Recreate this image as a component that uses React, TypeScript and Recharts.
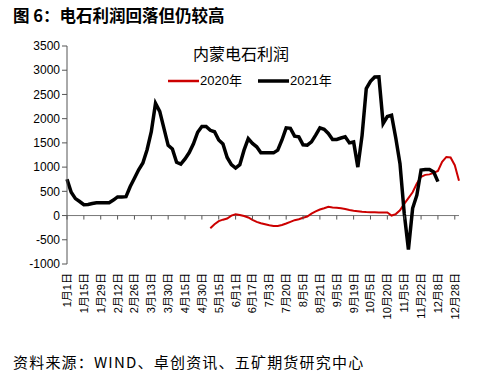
import { LineChart, Line, XAxis, YAxis, ReferenceLine } from "recharts";

// tick labels on the date axis, one every 4 data points
const tickLabels = [
  "1月1日", "1月15日", "1月29日", "2月12日", "2月26日", "3月13日", "3月30日", "4月15日",
  "4月30日", "5月15日", "6月1日", "6月17日", "7月3日", "7月20日", "8月5日", "8月21日",
  "9月5日", "9月19日", "10月5日", "10月20日", "11月5日", "11月22日", "12月8日", "12月28日",
];
const pointsPerLabel = 4;

const profit2021 = [
  750, 480, 350, 290, 225, 230, 250, 265, 265, 265,
  265, 320, 385, 385, 390, 600, 770, 945, 1085, 1360,
  1730, 2315, 2150, 1800, 1450, 1375, 1100, 1060, 1170, 1300,
  1480, 1720, 1840, 1840, 1760, 1730, 1560, 1480, 1200, 1050,
  980, 1050, 1350, 1590, 1490, 1420, 1294, 1294, 1294, 1294,
  1350, 1560, 1810, 1800, 1640, 1625, 1460, 1453, 1520, 1660,
  1810, 1780, 1695, 1571, 1571, 1600, 1625, 1500, 1520, 1000,
  1650, 2620, 2770, 2860, 2865, 1900, 2045, 2070, 1600, 1070,
  50, -700, 150, 420, 940, 951, 951, 900, 700,
];

const profit2020Start = 34;
const profit2020 = [
  -260, -180, -115, -85, -60, 0, 25, 10, -10, -40,
  -90, -130, -160, -180, -200, -215, -215, -195, -165, -130,
  -95, -75, -45, -20, 40, 85, 124, 150, 180, 165,
  160, 150, 135, 115, 100, 90, 80, 72, 68, 66,
  64, 63, 62, 0, 30, 110, 240, 360, 480, 660,
  800, 840, 850, 880, 920, 1110, 1210, 1200, 1040, 720,
];

const yTicks = [-1000, -500, 0, 500, 1000, 1500, 2000, 2500, 3000, 3500];

const lastIndex = profit2020Start + profit2020.length - 1;
const data = Array.from({ length: lastIndex + 1 }, (_, i) => ({
  i,
  y2021: i < profit2021.length ? profit2021[i] : null,
  y2020: i >= profit2020Start ? profit2020[i - profit2020Start] : null,
}));
const xTicks = tickLabels.map((_, k) => k * pointsPerLabel);

const W = 481;
const H = 380;
const PLOT_TOP = 46;
const PLOT_BOTTOM = 264;
const PLOT_LEFT = 67;
const PLOT_RIGHT = 459;
const Y_AXIS_W = 60;
const X_AXIS_H = 70;
const ZERO_Y = PLOT_TOP + ((PLOT_BOTTOM - PLOT_TOP) * 3500) / 4500;
const FONT = "'Liberation Sans', Arial, 'Noto Sans CJK SC', sans-serif";

const XTick = (props: any) => {
  const { x, payload } = props;
  const ly = PLOT_BOTTOM + 9;
  return (
    <g>
      <line x1={x} x2={x} y1={ZERO_Y} y2={ZERO_Y + 4} stroke="#555" />
      <text
        x={x}
        y={ly}
        transform={`rotate(-90, ${x}, ${ly})`}
        textAnchor="end"
        dominantBaseline="central"
        fontSize={11}
        fill="#000"
        fontFamily={FONT}
      >
        {tickLabels[Math.round(payload.value / pointsPerLabel)]}
      </text>
    </g>
  );
};

export default function App() {
  return (
    <div style={{ position: "absolute", left: 0, top: 0, width: W, height: H, background: "#fff", fontFamily: FONT }}>
      <div style={{ position: "absolute", left: 13, top: 3, fontSize: 16.5, fontWeight: "bold", fontFamily: "'Noto Sans CJK SC', sans-serif", color: "#000", whiteSpace: "nowrap" }}>
        图 6：电石利润回落但仍较高
      </div>

      <LineChart
        width={W}
        height={H}
        data={data}
        margin={{ top: PLOT_TOP, right: W - PLOT_RIGHT, bottom: H - PLOT_BOTTOM - X_AXIS_H, left: PLOT_LEFT - Y_AXIS_W }}
      >
        <XAxis
          dataKey="i"
          type="number"
          domain={[0, lastIndex]}
          ticks={xTicks}
          interval={0}
          height={X_AXIS_H}
          axisLine={false}
          tickLine={false}
          tick={<XTick />}
        />
        <YAxis
          domain={[-1000, 3500]}
          ticks={yTicks}
          interval={0}
          width={Y_AXIS_W}
          axisLine={{ stroke: "#555" }}
          tickLine={{ stroke: "#555" }}
          tickSize={5}
          tick={{ fontSize: 12, fill: "#000", fontFamily: FONT }}
        />
        <ReferenceLine y={0} stroke="#777" strokeWidth={1} />
        <Line
          type="linear"
          dataKey="y2020"
          stroke="#CC0000"
          strokeWidth={2}
          dot={false}
          connectNulls={false}
          isAnimationActive={false}
        />
        <Line
          type="linear"
          dataKey="y2021"
          stroke="#000"
          strokeWidth={3.5}
          dot={false}
          connectNulls={false}
          isAnimationActive={false}
        />
      </LineChart>

      <div style={{ position: "absolute", left: 193, top: 43, fontSize: 16, fontFamily: "'Noto Sans CJK SC', sans-serif", whiteSpace: "nowrap", lineHeight: "20px" }}>
        内蒙电石利润
      </div>

      <div style={{ position: "absolute", left: 168, top: 72, display: "flex", alignItems: "center", fontSize: 13, whiteSpace: "nowrap", lineHeight: "18px" }}>
        <svg width={31} height={6}><line x1={0} x2={31} y1={3} y2={3} stroke="#CC0000" strokeWidth={2.5} /></svg>
        <span style={{ marginLeft: 1 }}>2020年</span>
        <svg width={31} height={6} style={{ marginLeft: 16 }}><line x1={0} x2={31} y1={3} y2={3} stroke="#000" strokeWidth={3.5} /></svg>
        <span style={{ marginLeft: 1 }}>2021年</span>
      </div>

      <div style={{ position: "absolute", left: 13, top: 352, fontSize: 15, fontFamily: "'Noto Sans CJK SC', sans-serif", whiteSpace: "nowrap", lineHeight: "20px", letterSpacing: 1.2 }}>
        资料来源：WIND、卓创资讯、五矿期货研究中心
      </div>
    </div>
  );
}
